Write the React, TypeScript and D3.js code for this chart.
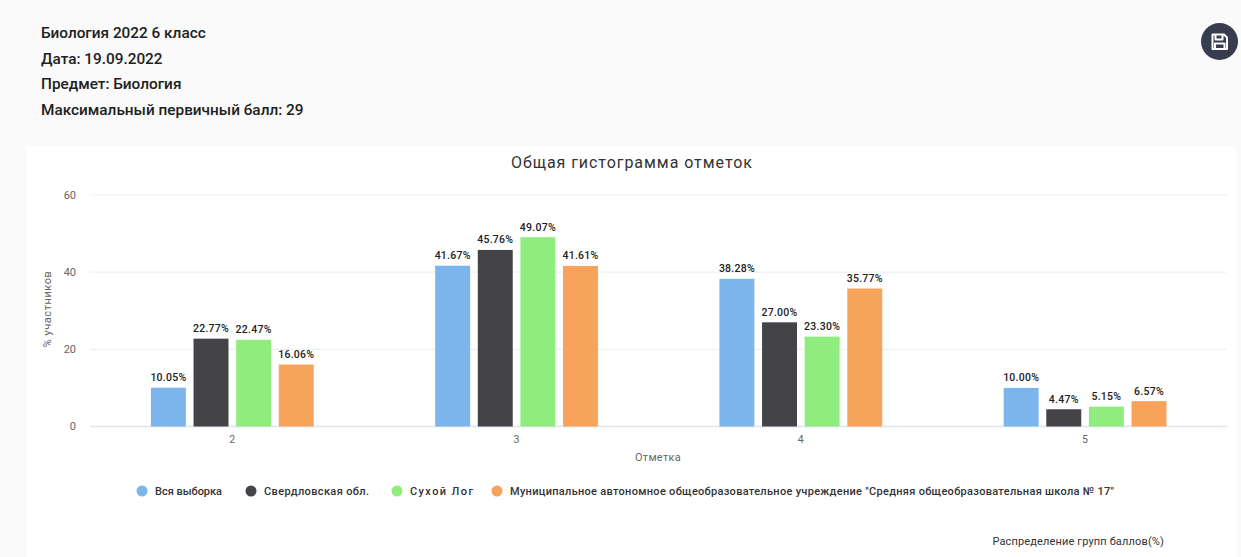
import React from "react";
import * as d3 from "d3";

const headerLines = ["Биология 2022 6 класс", "Дата: 19.09.2022", "Предмет: Биология", "Максимальный первичный балл: 29"];
const categories = ["2", "3", "4", "5"];
const seriesNames = ["Вся выборка", "Свердловская обл.", "Сухой Лог", 'Муниципальное автономное общеобразовательное учреждение "Средняя общеобразовательная школа № 17"'];
const colors = ["#7cb5ec", "#434348", "#90ed7d", "#f7a35c"];
const allSample = [10.05, 41.67, 38.28, 10.0];
const sverdlovsk = [22.77, 45.76, 27.0, 4.47];
const sukhoiLog = [22.47, 49.07, 23.3, 5.15];
const school17 = [16.06, 41.61, 35.77, 6.57];
const seriesValues = [allSample, sverdlovsk, sukhoiLog, school17];
const yTicks = [0, 20, 40, 60];
const legendX = [142, 251, 397, 497];
const legendWidths = [67, 105, 63, 604];

const font = "Roboto, sans-serif";

export default function App() {
  const x = d3.scaleBand<string>().domain(categories).range([90, 1227]);
  const y = d3.scaleLinear().domain([0, 60]).range([426.5, 195]);
  const inner = d3.scaleBand<number>().domain([0, 1, 2, 3]).range([-81.2, 81.6]).paddingInner(0.18);
  return (
    <svg width={1241} height={557} style={{ position: "fixed", left: 0, top: 0, display: "block" }} fontFamily={font}>
      <rect width={1241} height={557} fill="#fafafa" />
      <rect x={27} y={146} width={1209} height={411} fill="#ffffff" />
      {headerLines.map((t, i) => (
        <text key={t} x={41} y={38 + i * 25.7} fontSize={15.35} fontWeight={500} fill="#212121">{t}</text>
      ))}
      <circle cx={1219.5} cy={41.5} r={18.5} fill="#373d4f" />
      <g fill="none" stroke="#ffffff" strokeWidth={2} strokeLinejoin="round">
        <path d="M1212.5 34.5h11.5l3 3v11.5h-14.5z" />
        <path d="M1215.5 35v4.5h7V35" />
        <path d="M1215 49v-5.5h9.5V49" />
      </g>
      <text x={632} y={168} textAnchor="middle" fontSize={16} letterSpacing={0.95} fill="#333333">Общая гистограмма отметок</text>
      {yTicks.map((t) => (
        <g key={t}>
          {t > 0 && <line x1={90} x2={1227} y1={y(t)} y2={y(t)} stroke="#eef0f4" strokeWidth={1.2} />}
          <text x={76} y={y(t) + 3.5} textAnchor="end" fontSize={11} fill="#666666">{t}</text>
        </g>
      ))}
      <line x1={90} x2={1227} y1={y(0)} y2={y(0)} stroke="#dfe4f0" strokeWidth={1.4} />
      <text transform="translate(51,309) rotate(-90)" textAnchor="middle" fontSize={11} letterSpacing={0.55} fill="#666666">% участников</text>
      {categories.map((c, ci) => {
        const cx = x(c)! + x.bandwidth() / 2;
        return (
          <g key={c}>
            {seriesValues.map((vals, si) => {
              const bx = cx + inner(si)!;
              return (
                <g key={si}>
                  <rect x={bx} y={y(vals[ci])} width={inner.bandwidth()} height={y(0) - y(vals[ci])} fill={colors[si]} />
                  <text x={bx + inner.bandwidth() / 2} y={y(vals[ci]) - 6.5} textAnchor="middle" fontSize={10.5} fontWeight={500} letterSpacing={0.25} fill="#222222">{vals[ci].toFixed(2)}%</text>
                </g>
              );
            })}
            <text x={cx} y={443} textAnchor="middle" fontSize={10.5} fill="#666666">{c}</text>
          </g>
        );
      })}
      <text x={658} y={461} textAnchor="middle" fontSize={11} letterSpacing={0.3} fill="#666666">Отметка</text>
      {seriesNames.map((n, i) => (
        <g key={n}>
          <circle cx={legendX[i]} cy={491} r={5.5} fill={colors[i]} />
          <text x={legendX[i] + 13} y={495} fontSize={11} fontWeight={500} textLength={legendWidths[i]} fill="#333333">{n}</text>
        </g>
      ))}
      <text x={1164} y={545} textAnchor="end" fontSize={11} letterSpacing={0.15} fill="#333333">Распределение групп баллов(%)</text>
    </svg>
  );
}
